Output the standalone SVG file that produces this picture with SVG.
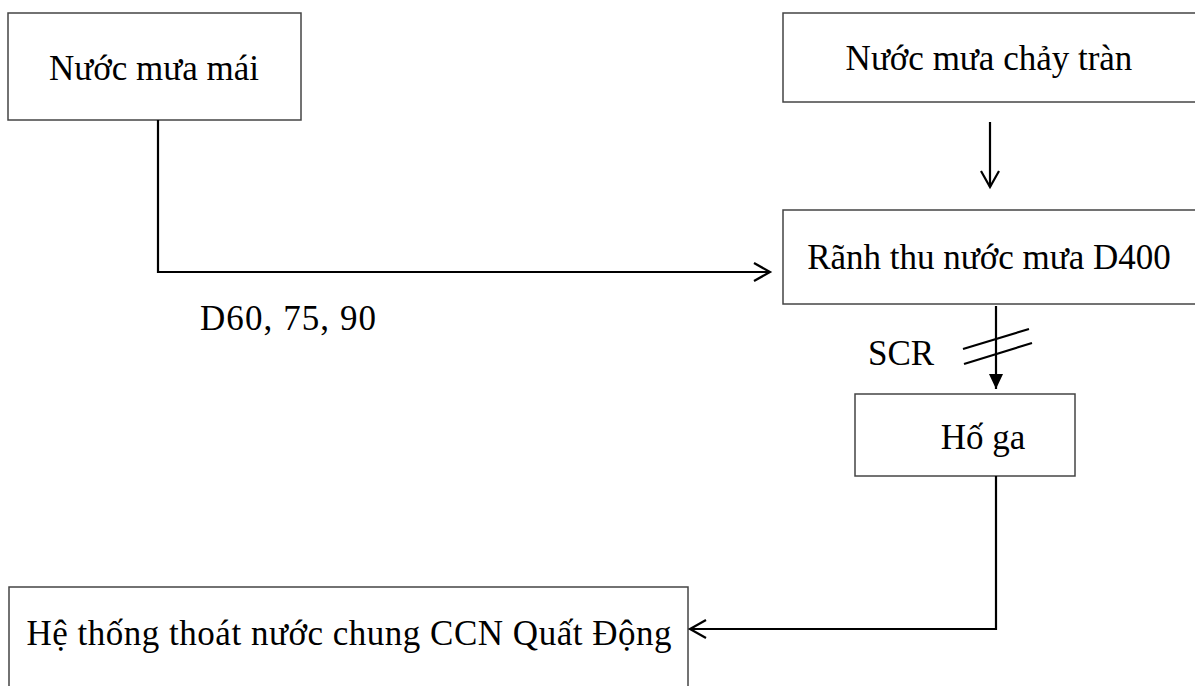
<svg xmlns="http://www.w3.org/2000/svg" width="1195" height="686" viewBox="0 0 1195 686">
<defs>
<style>
.box{fill:#fff;stroke:#444;stroke-width:1.5}
.t{font-family:"Liberation Serif","Times New Roman",serif;font-size:35px;fill:#000}
.c{fill:none;stroke:#000;stroke-width:2.2}
</style>
<marker id="open" markerWidth="20" markerHeight="20" refX="17" refY="10" orient="auto" markerUnits="userSpaceOnUse">
<path d="M1,1 L17,10 L1,19" fill="none" stroke="#000" stroke-width="2.2"/>
</marker>
<marker id="fill" markerWidth="16" markerHeight="16" refX="15" refY="8" orient="auto" markerUnits="userSpaceOnUse">
<path d="M0,1 L15,8 L0,15 Z" fill="#000"/>
</marker>
</defs>
<rect width="1195" height="686" fill="#fff"/>
<g id="n1"><rect class="box" x="8" y="13" width="293" height="107"/><text class="t" x="154" y="80" text-anchor="middle">Nước mưa mái</text></g>
<g id="n2"><rect class="box" x="783" y="13" width="420" height="89"/><text class="t" x="989" y="70" text-anchor="middle">Nước mưa chảy tràn</text></g>
<g id="n3"><rect class="box" x="783" y="210" width="420" height="94"/><text class="t" x="989" y="269" text-anchor="middle">Rãnh thu nước mưa D400</text></g>
<g id="n4"><rect class="box" x="855" y="394" width="220" height="82"/><text class="t" x="983" y="449" text-anchor="middle">Hố ga</text></g>
<g id="n5"><rect class="box" x="9" y="587" width="679" height="110"/><text class="t" x="349" y="645" text-anchor="middle" textLength="645" lengthAdjust="spacing">Hệ thống thoát nước chung CCN Quất Động</text></g>
<g id="connectors">
<path class="c" d="M158,120 V272 H770" marker-end="url(#open)"/>
<path class="c" d="M990,122 V187" marker-end="url(#open)"/>
<path class="c" d="M996,306 V389" marker-end="url(#fill)"/>
<path class="c" d="M963,349 L1029,329 M964,364 L1032,343"/>
<path class="c" d="M996,476 V629 H690" marker-end="url(#open)"/>
<text class="t" x="200" y="330" textLength="176" lengthAdjust="spacing">D60, 75, 90</text>
<text class="t" x="868" y="365">SCR</text>
</g>
</svg>
